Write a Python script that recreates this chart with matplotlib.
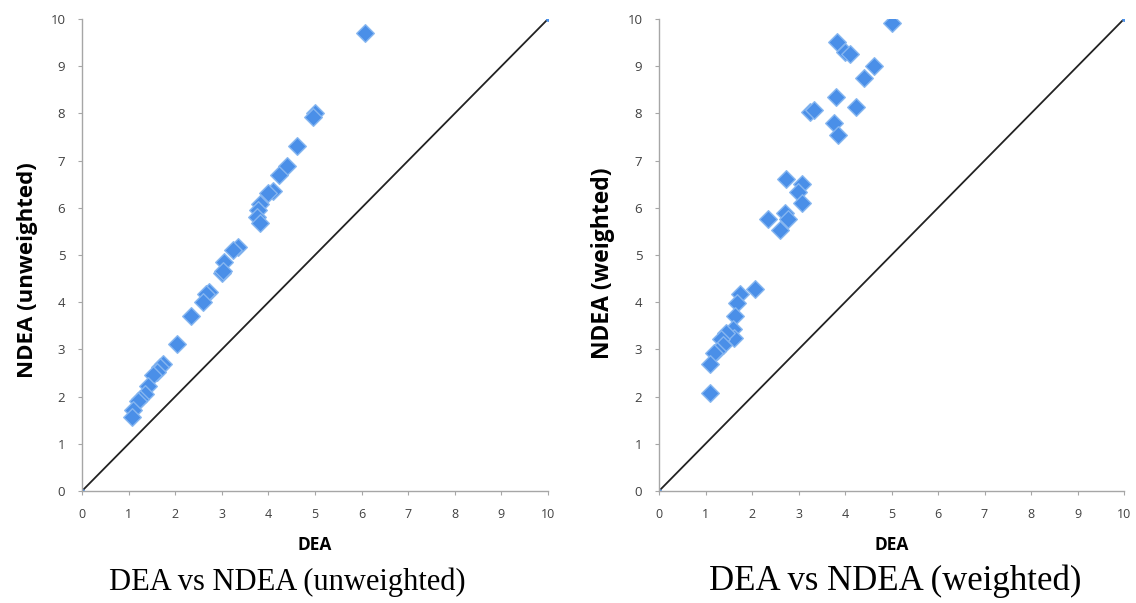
import numpy as np
import matplotlib
matplotlib.use("Agg")
import matplotlib.pyplot as plt

# DEA vs NDEA (unweighted)
dea_unw = [6.07, 5.00, 4.96, 4.62, 4.39, 4.23, 4.10, 4.00, 3.83, 3.78, 3.75, 3.83,
           3.34, 3.25, 3.05, 3.00, 3.02, 2.73, 2.67, 2.59, 2.34, 2.04, 1.74, 1.67,
           1.60, 1.53, 1.42, 1.35, 1.24, 1.20, 1.09, 1.08]
ndea_unw = [9.70, 8.00, 7.92, 7.31, 6.89, 6.69, 6.36, 6.32, 6.09, 5.95, 5.80, 5.68,
            5.16, 5.10, 4.86, 4.61, 4.66, 4.22, 4.17, 4.01, 3.70, 3.12, 2.69, 2.63,
            2.52, 2.45, 2.22, 2.06, 1.94, 1.90, 1.72, 1.57]

# DEA vs NDEA (weighted)
dea_w = [5.01, 3.83, 4.00, 4.10, 4.63, 4.41, 3.80, 4.23, 3.25, 3.33, 3.77, 3.84,
         2.73, 3.07, 2.98, 3.07, 2.71, 2.78, 2.35, 2.60, 2.06, 1.74, 1.67, 1.63,
         1.60, 1.62, 1.44, 1.33, 1.38, 1.24, 1.18, 1.10, 1.10]
ndea_w = [9.91, 9.52, 9.31, 9.25, 9.01, 8.74, 8.35, 8.14, 8.02, 8.08, 7.79, 7.55,
          6.62, 6.50, 6.34, 6.11, 5.88, 5.77, 5.76, 5.54, 4.28, 4.18, 3.99, 3.70,
          3.44, 3.25, 3.35, 3.21, 3.09, 2.97, 2.93, 2.70, 2.08]

diag = [0, 10]
ticks = list(range(0, 11))

ylabels = ["NDEA (unweighted)", "NDEA (weighted)"]
captions = ["DEA vs NDEA (unweighted)", "DEA vs NDEA (weighted)"]

fig = plt.figure(figsize=(11.36, 6.03), dpi=100)
ax1 = fig.add_axes([82/1136, 112/603, 466/1136, 472/603])
ax2 = fig.add_axes([659/1136, 112/603, 465/1136, 472/603])

# caption centre x (px) and font size, the two captions are not equally wide
cap_x = [287, 895]
cap_size = [22, 25]
ylab_size = [16, 16.5]
ylab_y = [0.468, 0.483]   # y labels sit a bit below the axis middle

panels = [(ax1, dea_unw, ndea_unw), (ax2, dea_w, ndea_w)]
for i, (ax, xs, ys) in enumerate(panels):
    ax.plot(diag, diag, color="#222222", lw=1.3, marker="o", ms=2.5,
            mfc="#4a90e8", mec="#4a90e8", zorder=2)
    ax.scatter(xs, ys, marker="D", s=80, color="#4a8fe8", edgecolor="#86b6f0",
               linewidth=1.0, zorder=3)
    ax.set_xlim(0, 10)
    ax.set_ylim(0, 10)
    ax.set_xticks(ticks)
    ax.set_yticks(ticks)
    ax.spines["top"].set_visible(False)
    ax.spines["right"].set_visible(False)
    for s in ["left", "bottom"]:
        ax.spines[s].set_color("#a6a6a6")
        ax.spines[s].set_linewidth(1.0)
    ax.tick_params(direction="out", length=3, width=0.8, color="#a6a6a6",
                   labelcolor="#404040", pad=9)
    ax.tick_params(axis="x", labelsize=9)
    ax.tick_params(axis="y", labelsize=9.5)
    for lab in ax.get_xticklabels() + ax.get_yticklabels():
        lab.set_family("Open Sans")
    ax.set_xlabel("DEA", fontsize=12.5, fontweight="bold", family="Open Sans",
                  labelpad=11)
    ax.set_ylabel(ylabels[i], fontsize=ylab_size[i], fontweight="bold",
                  family="Open Sans", labelpad=9)
    ax.yaxis.label.set_y(ylab_y[i])
    fig.text(cap_x[i]/1136, 1 - 590/603, captions[i], ha="center",
             va="baseline", fontsize=cap_size[i], family="Liberation Serif")
    ax.patch.set_alpha(0)

fig.savefig("out.png", dpi=100)
